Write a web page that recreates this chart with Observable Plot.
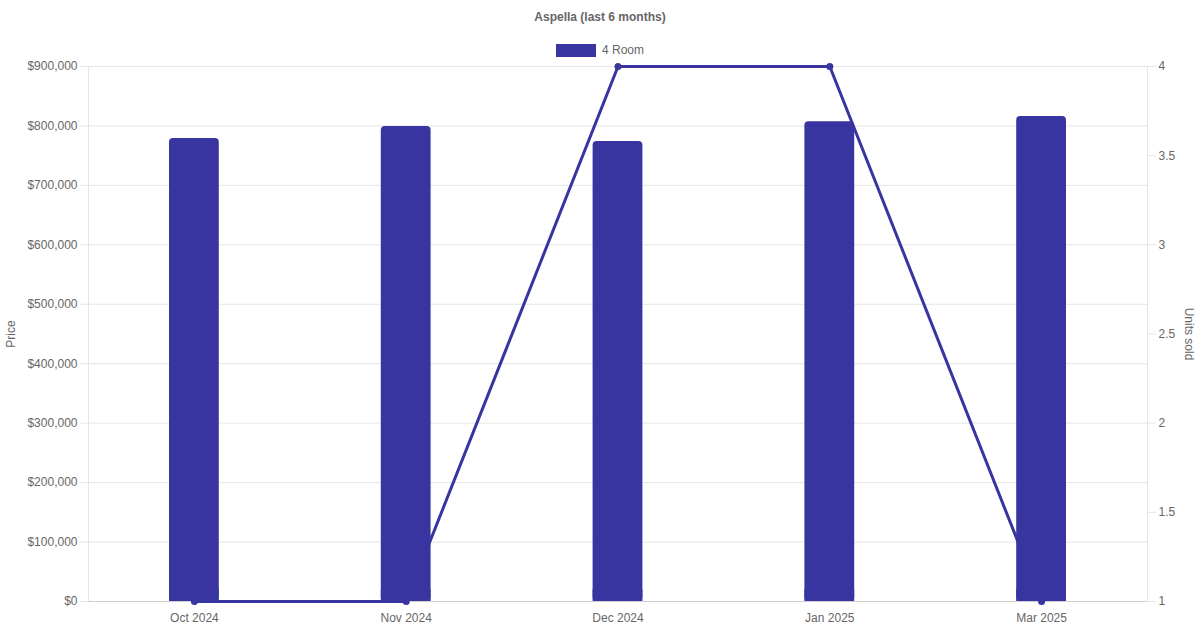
<!DOCTYPE html>
<html><head><meta charset="utf-8">
<script src="https://cdn.jsdelivr.net/npm/d3@7"></script>
<script src="https://cdn.jsdelivr.net/npm/@observablehq/plot@0.6"></script>
<style>
body{margin:0;background:#fff;font-family:"Liberation Sans",Arial,sans-serif;}
#wrap{width:1200px;height:630px;position:relative;overflow:hidden;}
#header{position:relative;height:58px;width:1200px;}
#title{position:absolute;top:9px;left:0;width:1200px;text-align:center;font-weight:bold;font-size:12px;color:#666;line-height:16px;}
#legend{position:absolute;top:43px;left:556px;height:14px;display:flex;align-items:center;font-size:12px;color:#666;}
#legend .box{width:38px;height:11px;background:#3935a0;border:1px solid #3935a0;margin-right:6px;}
.ylab{position:absolute;font-size:12px;color:#666;white-space:nowrap;line-height:14px;}
#ylabL{left:11px;top:334px;transform:translate(-50%,-50%) rotate(-90deg);}
#ylabR{left:1189px;top:334px;transform:translate(-50%,-50%) rotate(90deg);}
svg{display:block;}
</style>
</head><body>
<div id="wrap">
  <div id="header">
    <div id="title">Aspella (last 6 months)</div>
    <div id="legend"><span class="box"></span><span>4 Room</span></div>
  </div>
  <div id="chart"></div>
  <div class="ylab" id="ylabL">Price</div>
  <div class="ylab" id="ylabR">Units sold</div>
</div>
<script>
const months = ["Oct 2024", "Nov 2024", "Dec 2024", "Jan 2025", "Mar 2025"];
const prices = [779000, 799000, 774000, 807000, 816000];
const unitsSold = [1, 1, 4, 4, 1];
const priceTicks = [0, 100000, 200000, 300000, 400000, 500000, 600000, 700000, 800000, 900000];
const unitTicks = [1, 1.5, 2, 2.5, 3, 3.5, 4];

const color = "#3935a0";
const priceMax = 900000, uMin = 1, uMax = 4;
const u2p = u => (u - uMin) / (uMax - uMin) * priceMax;
const p2u = p => +(p / priceMax * (uMax - uMin) + uMin).toFixed(2);

const data = months.map((m, i) => ({month: m, price: prices[i], units: unitsSold[i]}));
const fmt = d3.format(",");

const chart = Plot.plot({
  width: 1200,
  height: 572,
  marginTop: 8,
  marginBottom: 29,
  marginLeft: 88,
  marginRight: 53,
  style: {fontFamily: "Liberation Sans, Arial, sans-serif", fontSize: "12px", color: "#666", background: "#fff"},
  x: {type: "band", domain: months, padding: 0, round: false},
  y: {domain: [0, priceMax]},
  marks: [
    Plot.gridY(priceTicks, {stroke: "#e5e5e5", strokeOpacity: 1}),
    Plot.frame({stroke: "#e5e5e5", strokeOpacity: 1}),
    Plot.ruleY([0], {stroke: "#cfcfcf"}),
    Plot.axisY(priceTicks, {tickFormat: d => "$" + fmt(d), tickSize: 8, tickPadding: 3, stroke: "#e5e5e5", fill: "#666", label: null}),
    Plot.axisY(unitTicks.map(u2p), {anchor: "right", tickFormat: p2u, tickSize: 8, tickPadding: 3, stroke: "#e5e5e5", fill: "#666", label: null}),
    Plot.axisX({tickSize: 0, tickPadding: 12, fill: "#666", label: null}),
    Plot.line(data, {x: "month", y: d => u2p(d.units), stroke: color, strokeWidth: 3}),
    Plot.dot(data, {x: "month", y: d => u2p(d.units), r: 3.5, fill: color}),
    Plot.barY(data, {x: "month", y: "price", fill: color, insetLeft: 81, insetRight: 81, rx: 4}),
    Plot.barY(data, {x: "month", y: d => Math.min(d.price, 20000), fill: color, insetLeft: 81, insetRight: 81})
  ]
});
document.getElementById("chart").appendChild(chart);
</script>
</body></html>
